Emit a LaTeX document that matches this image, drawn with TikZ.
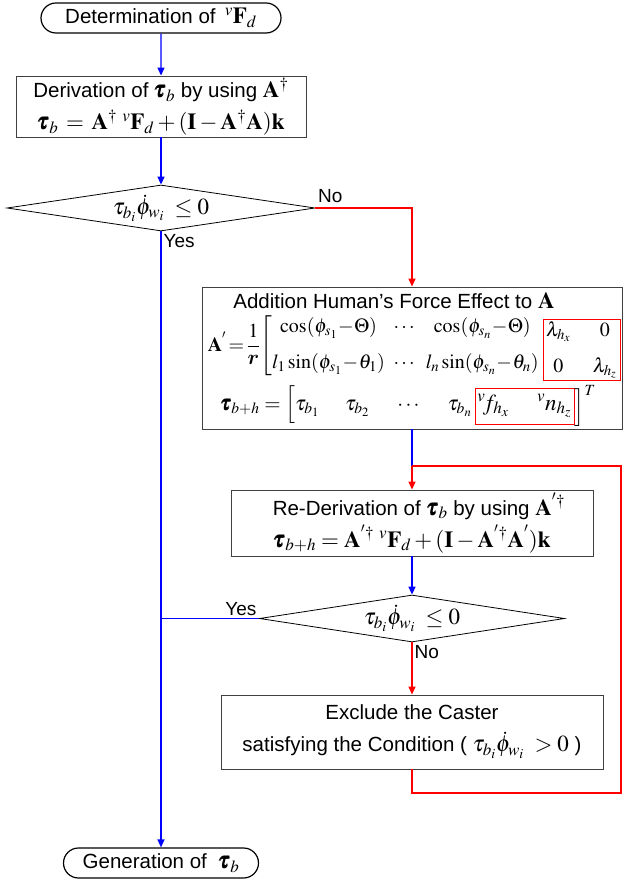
\documentclass[tikz,border=0pt]{standalone}
\usepackage{amsmath,amssymb,bm}
\usepackage{mathptmx}
\usepackage{fontspec}
\setmainfont{Liberation Sans}
\usetikzlibrary{arrows.meta,positioning,shapes.geometric,shapes.misc}
\newcommand{\vtau}{\pmb{\tau}}
\newcommand{\mA}{\mathbf{A}}
\newcommand{\Fd}{{}^{v}\mathbf{F}_{d}}
\newcommand{\cnd}{\tau_{b_i}\dot{\phi}_{w_i}}
\newcommand{\Mth}[1]{{\fontsize{23}{32}\selectfont$#1$}}

\begin{document}
\begin{tikzpicture}[x=1pt, y=-1pt, >={Triangle[width=7pt,length=8pt]},
 font=\fontsize{20.5}{32}\selectfont,
 box/.style={draw=black!75, line width=0.9pt, align=center, inner sep=0pt},
 term/.style={draw, rounded rectangle, line width=1.2pt, inner sep=0pt},
 cond/.style={draw, diamond, aspect=6.7, inner sep=0pt, line width=0.8pt},
 yes/.style={draw=blue, line width=1.4pt},
 no/.style={draw=red, line width=1.4pt},
 redbox/.style={draw=red, line width=1pt, inner sep=0pt},
 lbl/.style={font=\fontsize{19}{22}\selectfont, inner sep=2pt}]
\useasboundingbox (0,0) rectangle (623,882);
\node[term, minimum width=240, minimum height=30] (start) at (161,18) {Determination of \,\Mth{\Fd}};
\node[box, minimum width=290, minimum height=61] (deriv) at (161,106.5)
 {Derivation of \Mth{\vtau_b} by using \Mth{\mA^{\dagger}}\\
  \Mth{\vtau_b\,=\,\mA^{\dagger}\;\Fd+(\mathbf{I}-\mA^{\dagger}\mA)\mathbf{k}}};
\node[cond, minimum width=308, minimum height=46] (chk1) at (161,208) {\Mth{\cnd\;\leq 0}};
% human force block
\node[box, minimum width=420, minimum height=142] (human) at (412,358) {};
\node (htitle) at (394,301) {Addition Human's Force Effect to \Mth{\mA}};
\node[anchor=east, inner sep=0pt, font=\fontsize{20}{24}\selectfont] (hmat) at (540,346)
 {$\mA^{'}\!=\!\dfrac{1}{\boldsymbol{r}}\!\left[\begin{array}{@{}c@{\;\;}c@{\;\;}c@{}}
 \cos(\phi_{s_1}\!-\!\Theta) & \cdots & \cos(\phi_{s_n}\!-\!\Theta)\\[12pt]
 l_1\sin(\phi_{s_1}\!-\!\theta_1) & \cdots & l_n\sin(\phi_{s_n}\!-\!\theta_n)\end{array}\right.$};
\node[redbox, minimum width=77, minimum height=61, font=\fontsize{20}{24}\selectfont] (hlam) at (581.5,349.5)
 {$\begin{array}{@{}c@{\hspace{22pt}}c@{}}\lambda_{h_x}&0\\[12pt]0&\lambda_{h_z}\end{array}$};
\node[anchor=east, inner sep=0pt, font=\fontsize{21}{24}\selectfont] (htau) at (472,405)
 {$\vtau_{b+h}=\Bigl[\tau_{b_1}\quad\;\tau_{b_2}\quad\;\cdots\quad\;\tau_{b_n}$};
\node[redbox, minimum width=99, minimum height=36, font=\fontsize{23}{26}\selectfont] (hforce) at (524.5,406)
 {${}^{v}\!f_{h_x}\quad\;{}^{v}n_{h_z}$};
\node[anchor=west, inner sep=0pt, font=\fontsize{21}{24}\selectfont] (hT) at (hforce.east) {$\Bigr]^{T}$};
% re-derivation
\node[box, minimum width=362, minimum height=66] (rederiv) at (412,523)
 {\hspace*{14pt}Re-Derivation of \Mth{\vtau_b} by using \Mth{\mA^{'\dagger}}\\
  \Mth{\vtau_{b+h}=\mA^{'\dagger}\;\Fd+(\mathbf{I}-\mA^{'\dagger}\mA^{'})\mathbf{k}}};
\node[cond, minimum width=305, minimum height=47] (chk2) at (412,618.5) {\Mth{\cnd\;\leq 0}};
\node[box, minimum width=382, minimum height=74] (exclude) at (412,732)
 {Exclude the Caster\\ satisfying the Condition ( \Mth{\cnd\;>0} )};
\node[term, minimum width=195, minimum height=30] (finish) at (161,863) {Generation of \;\Mth{\vtau_b}};
\coordinate (join) at (412,466);
\coordinate (redtop) at (621,466);
\coordinate (redbot) at (621,793);

\draw[yes,->] (start) -- (deriv);
\draw[yes,->] (deriv) -- (chk1);
\draw[yes,->] (chk1.south) -- (finish.north) node[lbl, pos=0, anchor=north west]{Yes};
\draw[no,->] (chk1.east) -| (human.north) node[lbl, pos=0, anchor=south west, yshift=3pt]{No};
\draw[yes] (human) -- (join);
\draw[no,->] (join) -- (rederiv);
\draw[yes,->] (rederiv) -- (chk2);
\draw[yes] (chk2.west) -- (chk2.west -| chk1.south) node[lbl, pos=0, anchor=south east]{Yes};
\draw[no,->] (chk2.south) -- (exclude) node[lbl, pos=0, anchor=north west]{No};
\draw[no] (exclude.south) |- (redbot) -- (redtop) -- (join);
\end{tikzpicture}
\end{document}
